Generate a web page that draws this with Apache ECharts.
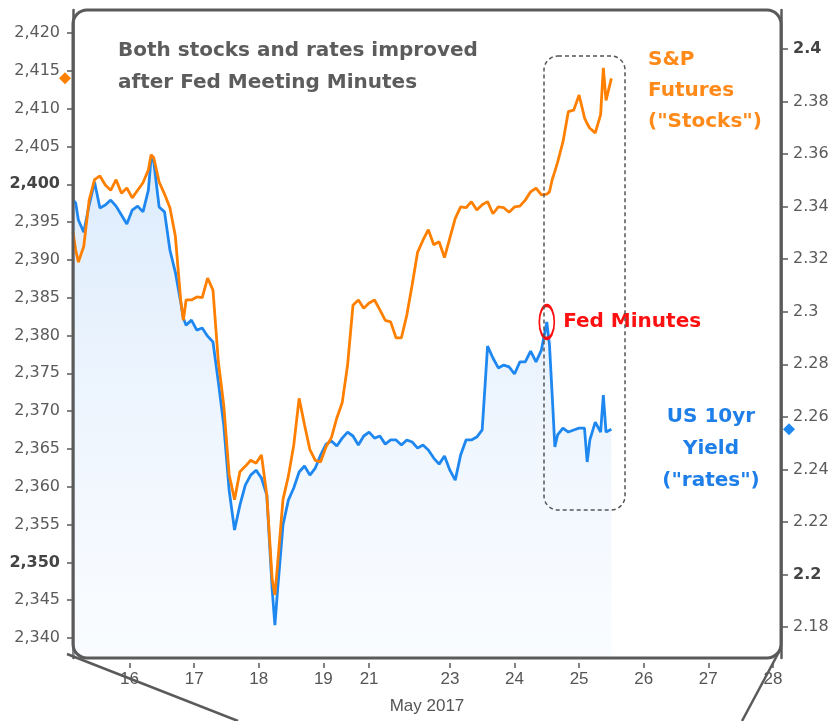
<!DOCTYPE html>
<html>
<head>
<meta charset="utf-8">
<script src="https://cdn.jsdelivr.net/npm/echarts@6/dist/echarts.min.js"></script>
<style>
html,body{margin:0;padding:0;background:#fff;}
#chart{width:835px;height:721px;}
</style>
</head>
<body>
<div id="chart"></div>
<script>
// ---- DATA (May 2017, 'DD HH' local time) ----
const times = ['15 03','15 04','15 05','15 07','15 09','15 11','15 13','15 15','15 17','15 19','15 21','15 23',
 '16 01','16 03','16 05','16 07','16 08','16 09','16 11','16 13','16 15','16 17','16 19','16 20','16 21','16 23',
 '17 01','17 03','17 05','17 07','17 09','17 11','17 13','17 15','17 17','17 19','17 21','17 23',
 '18 01','18 03','18 05','18 06','18 07','18 09','18 11','18 13','18 15','18 17','18 19','18 21','18 23',
 '19 01','19 03','19 05','19 07','19 09','19 11','19 13','19 15','19 17',
 '21 20','21 22','22 00','22 02','22 04','22 06','22 08','22 10','22 12','22 14','22 16','22 18','22 20','22 22',
 '23 00','23 02','23 04','23 06','23 08','23 10','23 12','23 14','23 16','23 18','23 20','23 22',
 '24 00','24 02','24 04','24 06','24 08','24 10','24 12','24 13','24 14','24 15','24 16','24 18','24 20','24 22',
 '25 00','25 02','25 03','25 04','25 06','25 08','25 09','25 10','25 12'];

// S&P futures ("Stocks") - left axis
const spx = [2393.7,2391.3,2389.7,2391.8,2397.9,2400.6,2401.1,2399.9,2399.2,2400.6,2398.8,2399.5,
 2398.2,2399.2,2400.2,2401.9,2403.9,2403.5,2400.3,2398.7,2396.9,2393.2,2384.7,2382.0,2384.7,2384.7,
 2385.1,2385.0,2387.6,2386.0,2376.5,2370.8,2361.6,2358.3,2362.0,2362.7,2363.5,2363.1,
 2364.2,2358.9,2347.7,2345.7,2349.7,2358.3,2361.4,2365.5,2371.7,2368.2,2364.9,2363.5,2363.3,
 2365.3,2366.5,2369.1,2371.1,2376.1,2384.0,2384.7,2383.6,2384.3,
 2384.7,2383.4,2382.0,2381.8,2379.7,2379.7,2382.7,2386.7,2391.0,2392.6,2394.0,2392.0,2392.4,2390.3,
 2392.9,2395.5,2397.0,2396.9,2397.7,2396.6,2397.3,2397.7,2396.1,2397.0,2396.9,2396.3,
 2397.0,2397.1,2397.9,2399.0,2399.5,2398.6,2398.7,2399.0,2400.6,2401.7,2402.9,2405.6,2409.6,2409.8,
 2411.8,2408.8,2408.0,2407.4,2406.8,2409.2,2415.4,2411.1,2414.0];

// US 10yr yield ("rates") - right axis
const tnx = [2.3425,2.3414,2.3349,2.3303,2.3406,2.3494,2.3395,2.3406,2.3425,2.3402,2.3368,2.3334,
 2.3387,2.3402,2.3380,2.3463,2.3585,2.3570,2.3399,2.3380,2.3235,2.3151,2.3037,2.2976,2.2949,2.2968,
 2.2930,2.2938,2.2907,2.2885,2.2732,2.2569,2.2321,2.2169,2.2264,2.2340,2.2378,2.2397,
 2.2367,2.2302,2.1941,2.1807,2.1941,2.2188,2.2283,2.2329,2.2390,2.2413,2.2378,2.2405,2.2455,
 2.2496,2.2508,2.2489,2.2519,2.2542,2.2527,2.2493,2.2527,2.2542,
 2.2519,2.2527,2.2496,2.2512,2.2512,2.2493,2.2512,2.2504,2.2481,2.2493,2.2474,2.2443,2.2420,2.2451,
 2.2397,2.2359,2.2455,2.2512,2.2512,2.2523,2.2550,2.2869,2.2824,2.2786,2.2797,2.2790,
 2.2763,2.2809,2.2809,2.2850,2.2809,2.2854,2.2961,2.2873,2.2683,2.2485,2.2531,2.2557,2.2542,2.2550,
 2.2557,2.2557,2.2428,2.2512,2.2580,2.2542,2.2683,2.2542,2.2553];

const fedMinutesTime = '24 12';

// axis ticks / labels
const leftTicks = [2340,2345,2350,2355,2360,2365,2370,2375,2380,2385,2390,2395,2400,2405,2410,2415,2420];
const leftBold = [2350, 2400];
const rightTicks = [2.18,2.2,2.22,2.24,2.26,2.28,2.3,2.32,2.34,2.36,2.38,2.4];
const rightBold = [2.2, 2.4];
const xTickTimes = ['16 00','17 00','18 00','19 00','21 18','23 00','24 00','25 00','26 00','27 00','28 00'];
const xRange = ['15 03', '28 03'];
const weekendBreak = ['19 17', '21 18'];
const leftRange = [2337.36, 2423.04];
const rightRange = [2.1682, 2.41485];

// ---- helpers ----
function toTs(s){ const p = s.split(' ').map(Number); return new Date(2017, 4, p[0], p[1], 0, 0).getTime(); }
const spxData = times.map((t,i)=>[toTs(t), spx[i]]);
const tnxData = times.map((t,i)=>[toTs(t), tnx[i]]);
const fedIdx = times.indexOf(fedMinutesTime);
const xMin = toTs(xRange[0]), xMax = toTs(xRange[1]);

const gray = '#5a5a5a';
const orange = '#ff8000';
const blue = '#1e88f0';
const narrow = "'Liberation Sans Narrow','Liberation Sans',Arial,sans-serif";

const chart = echarts.init(document.getElementById('chart'), null, {renderer:'canvas'});
const option = {
  animation: false,
  backgroundColor: '#fff',
  grid: { left: 73, right: 54, top: 10, bottom: 63, containLabel: false },
  xAxis: {
    type: 'value',
    min: xMin, max: xMax,
    breaks: [{ start: toTs(weekendBreak[0]), end: toTs(weekendBreak[1]), gap: 0 }],
    breakArea: { show: false },
    offset: 5,
    axisLine: { show: false },
    axisTick: { show: true, length: 5, lineStyle: { color: gray, width: 1.5 }, customValues: xTickTimes.map(toTs) },
    axisLabel: {
      customValues: xTickTimes.map(toTs),
      formatter: v => String(new Date(v).getDate()),
      color: '#555', fontSize: 17, margin: 8, fontFamily: narrow
    },
    splitLine: { show: false },
    name: 'May 2017', nameLocation: 'middle', nameGap: 35,
    nameTextStyle: { color: '#555', fontSize: 17, fontFamily: narrow }
  },
  yAxis: [
    {
      type: 'value', position: 'left', min: leftRange[0], max: leftRange[1],
      axisLine: { show: true, lineStyle: { color: gray, width: 2.5 } },
      axisTick: { show: true, length: 6, lineStyle: { color: gray, width: 1.5 }, customValues: leftTicks },
      axisLabel: {
        customValues: leftTicks, margin: 13,
        formatter: v => { const s = Math.round(v).toLocaleString('en-US'); return leftBold.indexOf(Math.round(v)) >= 0 ? '{b|' + s + '}' : s; },
        color: '#5a5a5a', fontSize: 16, fontFamily: "'DejaVu Sans',sans-serif",
        rich: { b: { fontWeight: 'bold', color: '#444', fontSize: 16, fontFamily: "'DejaVu Sans',sans-serif" } }
      },
      splitLine: { show: false }
    },
    {
      type: 'value', position: 'right', min: rightRange[0], max: rightRange[1],
      axisLine: { show: true, lineStyle: { color: gray, width: 2.5 } },
      axisTick: { show: true, length: 7, lineStyle: { color: gray, width: 1.5 }, customValues: rightTicks },
      axisLabel: {
        customValues: rightTicks, margin: 12,
        formatter: v => { const r = Math.round(v*100)/100; const s = String(r); return rightBold.indexOf(r) >= 0 ? '{b|' + s + '}' : s; },
        color: '#5a5a5a', fontSize: 16, fontFamily: "'DejaVu Sans',sans-serif",
        rich: { b: { fontWeight: 'bold', color: '#444', fontSize: 16, fontFamily: "'DejaVu Sans',sans-serif" } }
      },
      splitLine: { show: false }
    }
  ],
  series: [
    {
      name: 'US 10yr Yield', type: 'line', yAxisIndex: 1, data: tnxData,
      showSymbol: false, symbol: 'none', z: 2,
      lineStyle: { color: blue, width: 2.8 },
      areaStyle: {
        origin: 'start',
        color: new echarts.graphic.LinearGradient(0, 0, 0, 1, [
          { offset: 0, color: 'rgba(196,222,250,0.85)' },
          { offset: 1, color: 'rgba(240,246,255,0.5)' }
        ])
      },
      markPoint: {
        silent: true,
        data: [
          { coord: [xMax, tnx[tnx.length-1]], symbol: 'diamond', symbolSize: 12, symbolOffset: [8, 0],
            itemStyle: { color: blue }, label: { show: false } },
          { coord: [toTs(fedMinutesTime), tnx[fedIdx]], symbol: 'circle', symbolSize: [15, 33],
            itemStyle: { color: 'rgba(0,0,0,0)', borderColor: '#ff1010', borderWidth: 2.5 },
            label: { show: true, formatter: 'Fed Minutes', position: 'right', distance: 8,
              color: '#ff1010', fontWeight: 'bold', fontSize: 20, fontFamily: "'DejaVu Sans',sans-serif" } }
        ]
      }
    },
    {
      name: 'S&P Futures', type: 'line', yAxisIndex: 0, data: spxData,
      showSymbol: false, symbol: 'none', z: 3,
      lineStyle: { color: orange, width: 2.8 },
      markPoint: {
        silent: true,
        data: [
          { coord: [xMin, spx[spx.length-1]], symbol: 'diamond', symbolSize: 12, symbolOffset: [-8, 0],
            itemStyle: { color: orange }, label: { show: false } }
        ]
      }
    }
  ],
  graphic: [
    { type: 'rect', z: 50, silent: true, shape: { x: 73, y: 10, width: 708, height: 648, r: 14 },
      style: { fill: 'none', stroke: gray, lineWidth: 3 } },
    { type: 'rect', z: 50, silent: true, shape: { x: 544, y: 56, width: 81, height: 454, r: 14 },
      style: { fill: 'none', stroke: '#555', lineWidth: 1.5, lineDash: [4, 3] } },
    { type: 'line', z: 50, silent: true, shape: { x1: 67, y1: 654, x2: 238, y2: 721 },
      style: { stroke: gray, lineWidth: 2.5 } },
    { type: 'line', z: 50, silent: true, shape: { x1: 780, y1: 650, x2: 742, y2: 721 },
      style: { stroke: gray, lineWidth: 2.5 } },
    { type: 'text', z: 60, left: 118, top: 35, silent: true,
      style: { text: 'Both stocks and rates improved\nafter Fed Meeting Minutes', fill: '#5c5c5c',
        font: "bold 20px 'DejaVu Sans', sans-serif", lineHeight: 32 } },
    { type: 'text', z: 60, left: 648, top: 44, silent: true,
      style: { text: 'S&P\nFutures\n("Stocks")', fill: '#ff8a1a',
        font: "bold 20px 'DejaVu Sans', sans-serif", lineHeight: 31 } },
    { type: 'text', z: 60, x: 711, y: 401, silent: true,
      style: { text: 'US 10yr\nYield\n("rates")', fill: '#1e7fe8', align: 'center', verticalAlign: 'top',
        font: "bold 20px 'DejaVu Sans', sans-serif", lineHeight: 32 } }
  ]
};
chart.setOption(option);
</script>
</body>
</html>
